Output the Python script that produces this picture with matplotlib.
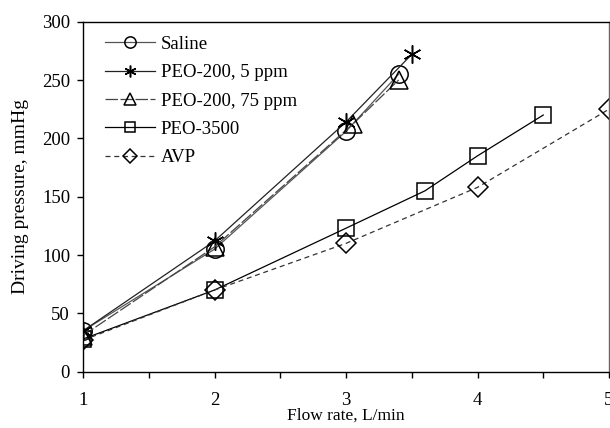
import matplotlib
matplotlib.use("Agg")
import matplotlib.pyplot as plt
from matplotlib.ticker import MultipleLocator

plt.rcParams['font.family'] = ['Liberation Serif', 'DejaVu Serif']
plt.rcParams['font.size'] = 12

saline_x = [1, 2, 3, 3.4]
saline_y = [35, 105, 206, 255]
peo5_x = [1, 2, 3, 3.5]
peo5_y = [35, 112, 214, 272]
peo75_x = [1, 2, 3.05, 3.4]
peo75_y = [31, 107, 212, 250]
peo3500_x = [1, 2, 3, 3.6, 4, 4.5]
peo3500_y = [28, 70, 123, 155, 185, 220]
avp_x = [1, 2, 3, 4, 5]
avp_y = [27, 70, 110, 158, 225]

W, H = 610, 428
fig = plt.figure(figsize=(W/100, H/100), dpi=100)
ax = fig.add_axes([83/W, 1-371.7/H, (609-83)/W, (371.7-21.7)/H])

common = dict(markerfacecolor='none', markeredgecolor='black', markeredgewidth=1.1)
ax.plot(saline_x, saline_y, color='#555555', lw=0.9, marker='o', ms=12.5, label='Saline', **common)
ax.plot(peo5_x, peo5_y, color='#222222', lw=0.9, marker=(6, 2, 0), ms=13, label='PEO-200, 5 ppm', **common)
ax.plot(peo75_x, peo75_y, color='#444444', lw=0.9, ls=(0, (10, 2)), marker='^', ms=12.5, label='PEO-200, 75 ppm', **common)
ax.plot(peo3500_x, peo3500_y, color='black', lw=0.9, marker='s', ms=11.5, label='PEO-3500', **common)
ax.plot(avp_x, avp_y, color='#333333', lw=0.9, ls=(0, (4, 3)), marker='D', ms=10.5, label='AVP', **common)

ax.set_xlim(1, 5)
ax.set_ylim(0, 300)
ax.xaxis.set_major_locator(MultipleLocator(1))
ax.xaxis.set_minor_locator(MultipleLocator(0.5))
ax.yaxis.set_major_locator(MultipleLocator(50))
ax.tick_params(axis='both', which='both', direction='out', length=4.3, width=1, labelsize=13.5, pad=5)
ax.tick_params(axis='x', which='both', pad=10.3)
ax.tick_params(axis='x', which='minor', labelbottom=False)

for s in ax.spines.values():
    s.set_linewidth(1.0)
ax.spines['right'].set_color('#666666')

ax.set_xlabel('Flow rate, L/min', fontsize=12.5, labelpad=-1)
ax.set_ylabel('Driving pressure, mmHg', fontsize=14, labelpad=9)

ax.legend(loc='upper left', bbox_to_anchor=(0.042, 0.96), frameon=False, fontsize=13.5,
          handlelength=2.67, handletextpad=0.3, labelspacing=0.6, borderpad=0,
          borderaxespad=0, markerscale=0.65)

fig.savefig('out.png', dpi=100)
